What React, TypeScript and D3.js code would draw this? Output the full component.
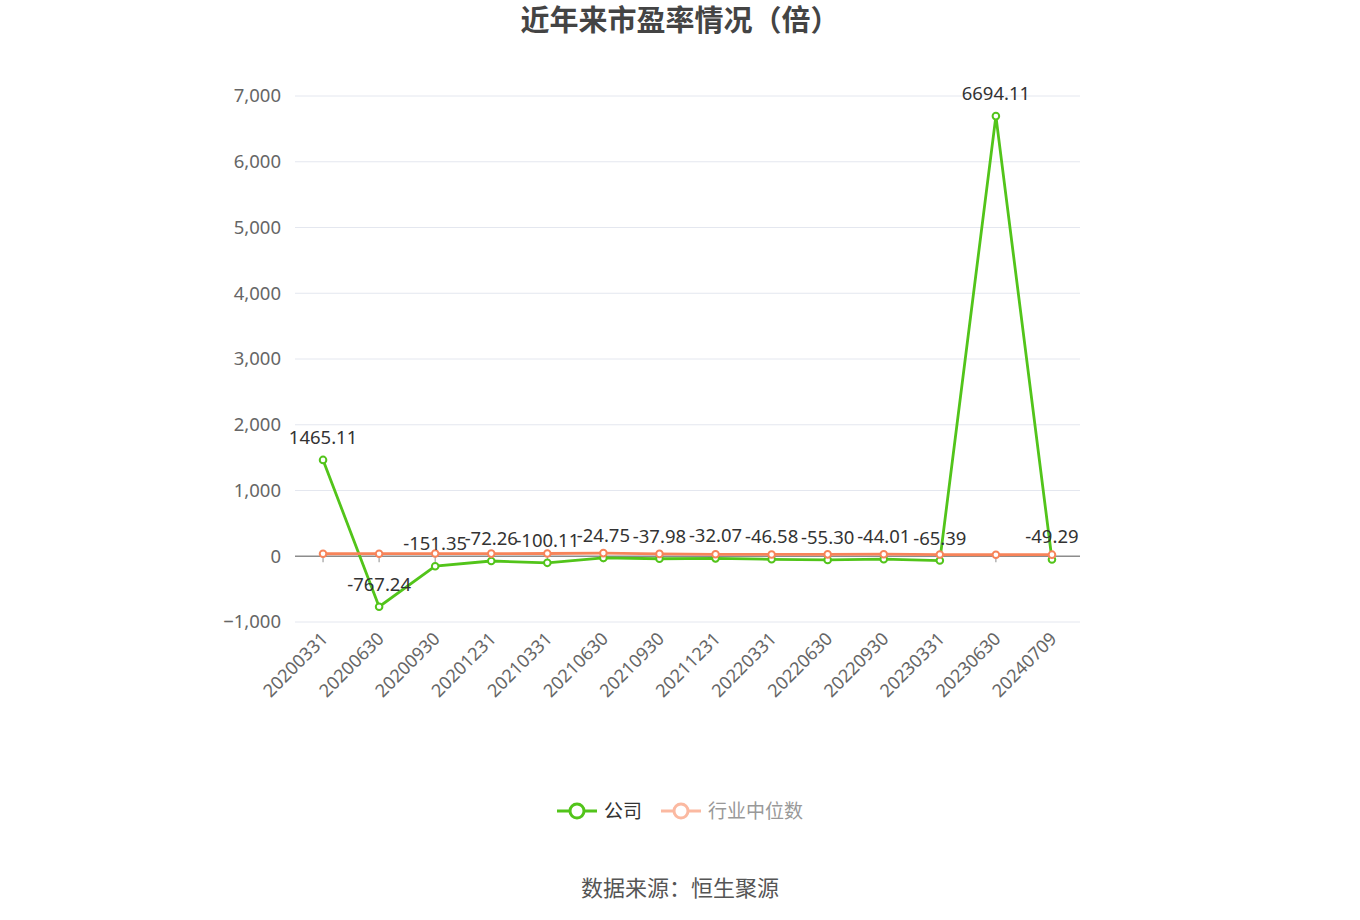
import { useEffect, useRef } from 'react'
import * as d3 from 'd3'

const categories = [
  '20200331', '20200630', '20200930', '20201231', '20210331', '20210630', '20210930',
  '20211231', '20220331', '20220630', '20220930', '20230331', '20230630', '20240709',
]
const companyPE = [
  1465.11, -767.24, -151.35, -72.26, -100.11, -24.75, -37.98,
  -32.07, -46.58, -55.3, -44.01, -65.39, 6694.11, -49.29,
]
const industryPE = [38, 39, 41, 40, 42, 48, 36, 30, 27, 29, 31, 26, 23, 24]
const yTicks = [-1000, 0, 1000, 2000, 3000, 4000, 5000, 6000, 7000]

const W = 1360
const H = 920
const GREEN = '#52c41a'
const ORANGE = '#f7845a'
const FONT = '"Noto Sans", "Noto Sans CJK SC", sans-serif'

export default function App() {
  const svgRef = useRef<SVGSVGElement>(null)

  useEffect(() => {
    const svgEl = svgRef.current
    if (!svgEl) return
    const svg = d3.select(svgEl)
    svg.selectAll('*').remove()

    const margin = { top: 96, right: 280, bottom: 298, left: 295 }
    const innerW = W - margin.left - margin.right
    const y = d3.scaleLinear().domain([-1000, 7000]).range([H - margin.bottom, margin.top])
    const x = d3.scaleBand<string>().domain(categories).range([margin.left, W - margin.right])
    const cx = (c: string) => (x(c) ?? 0) + x.bandwidth() / 2

    // title
    svg.append('text')
      .attr('x', W / 2).attr('y', 31)
      .attr('text-anchor', 'middle')
      .style('font-family', FONT).style('font-size', '29px').style('font-weight', 'bold')
      .style('fill', '#444')
      .text('近年来市盈率情况（倍）')

    // gridlines + y labels
    const grid = svg.append('g')
    yTicks.forEach(t => {
      if (t !== 0) {
        grid.append('line')
          .attr('x1', margin.left).attr('x2', margin.left + innerW)
          .attr('y1', y(t)).attr('y2', y(t))
          .style('stroke', '#e4e7ef').style('stroke-width', 1)
      }
      grid.append('text')
        .attr('x', margin.left - 14).attr('y', y(t))
        .attr('dy', '0.35em').attr('text-anchor', 'end')
        .style('font-family', FONT).style('font-size', '18.5px').style('fill', '#666')
        .text(d3.format(',')(t))
    })

    // zero axis with ticks
    const axisY = y(0)
    svg.append('line')
      .attr('x1', margin.left).attr('x2', margin.left + innerW)
      .attr('y1', axisY).attr('y2', axisY)
      .style('stroke', '#8c8c8c').style('stroke-width', 1.5)
    categories.forEach(c => {
      svg.append('line')
        .attr('x1', cx(c)).attr('x2', cx(c))
        .attr('y1', axisY).attr('y2', axisY + 6)
        .style('stroke', '#8c8c8c').style('stroke-width', 1)
      svg.append('text')
        .attr('transform', `translate(${cx(c) - 3},${y(-1000) + 9}) rotate(-45)`)
        .attr('text-anchor', 'end').attr('dy', '0.7em')
        .style('font-family', FONT).style('font-size', '18px').style('fill', '#666')
        .text(c)
    })

    const line = d3.line<number>()
      .x((_, i) => cx(categories[i]))
      .y(d => y(d))

    const drawSeries = (values: number[], color: string) => {
      svg.append('path')
        .datum(values)
        .attr('d', line)
        .style('fill', 'none').style('stroke', color).style('stroke-width', 2.8)
      svg.append('g').selectAll('circle')
        .data(values)
        .join('circle')
        .attr('cx', (_, i) => cx(categories[i]))
        .attr('cy', d => y(d))
        .attr('r', 3.3)
        .style('fill', '#fff').style('stroke', color).style('stroke-width', 2)
    }
    drawSeries(companyPE, GREEN)
    drawSeries(industryPE, ORANGE)

    // data labels for company
    svg.append('g').selectAll('text')
      .data(companyPE)
      .join('text')
      .attr('x', (_, i) => cx(categories[i]))
      .attr('y', d => y(d) - 16)
      .attr('text-anchor', 'middle')
      .style('font-family', FONT).style('font-size', '18.5px').style('fill', '#333')
      .text(d => d.toFixed(2))

    // legend
    const lg = svg.append('g').attr('transform', `translate(0,811)`)
    const item = (x0: number, color: string, label: string, textColor: string) => {
      lg.append('line').attr('x1', x0).attr('x2', x0 + 40).attr('y1', 0).attr('y2', 0)
        .style('stroke', color).style('stroke-width', 3)
      lg.append('circle').attr('cx', x0 + 20).attr('cy', 0).attr('r', 7)
        .style('fill', '#fff').style('stroke', color).style('stroke-width', 3)
      lg.append('text').attr('x', x0 + 47).attr('y', 0).attr('dy', '0.35em')
        .style('font-family', FONT).style('font-size', '19px').style('fill', textColor)
        .text(label)
    }
    item(557, GREEN, '公司', '#333')
    item(661, '#fbb9a1', '行业中位数', '#999')

    // source
    svg.append('text')
      .attr('x', W / 2).attr('y', 888).attr('dy', '0.35em')
      .attr('text-anchor', 'middle')
      .style('font-family', FONT).style('font-size', '22px').style('fill', '#555')
      .text('数据来源：恒生聚源')
  }, [])

  return (
    <div style={{ position: 'absolute', left: 0, top: 0, width: W, height: H, background: '#fff' }}>
      <svg ref={svgRef} width={W} height={H} style={{ display: 'block' }} />
    </div>
  )
}
